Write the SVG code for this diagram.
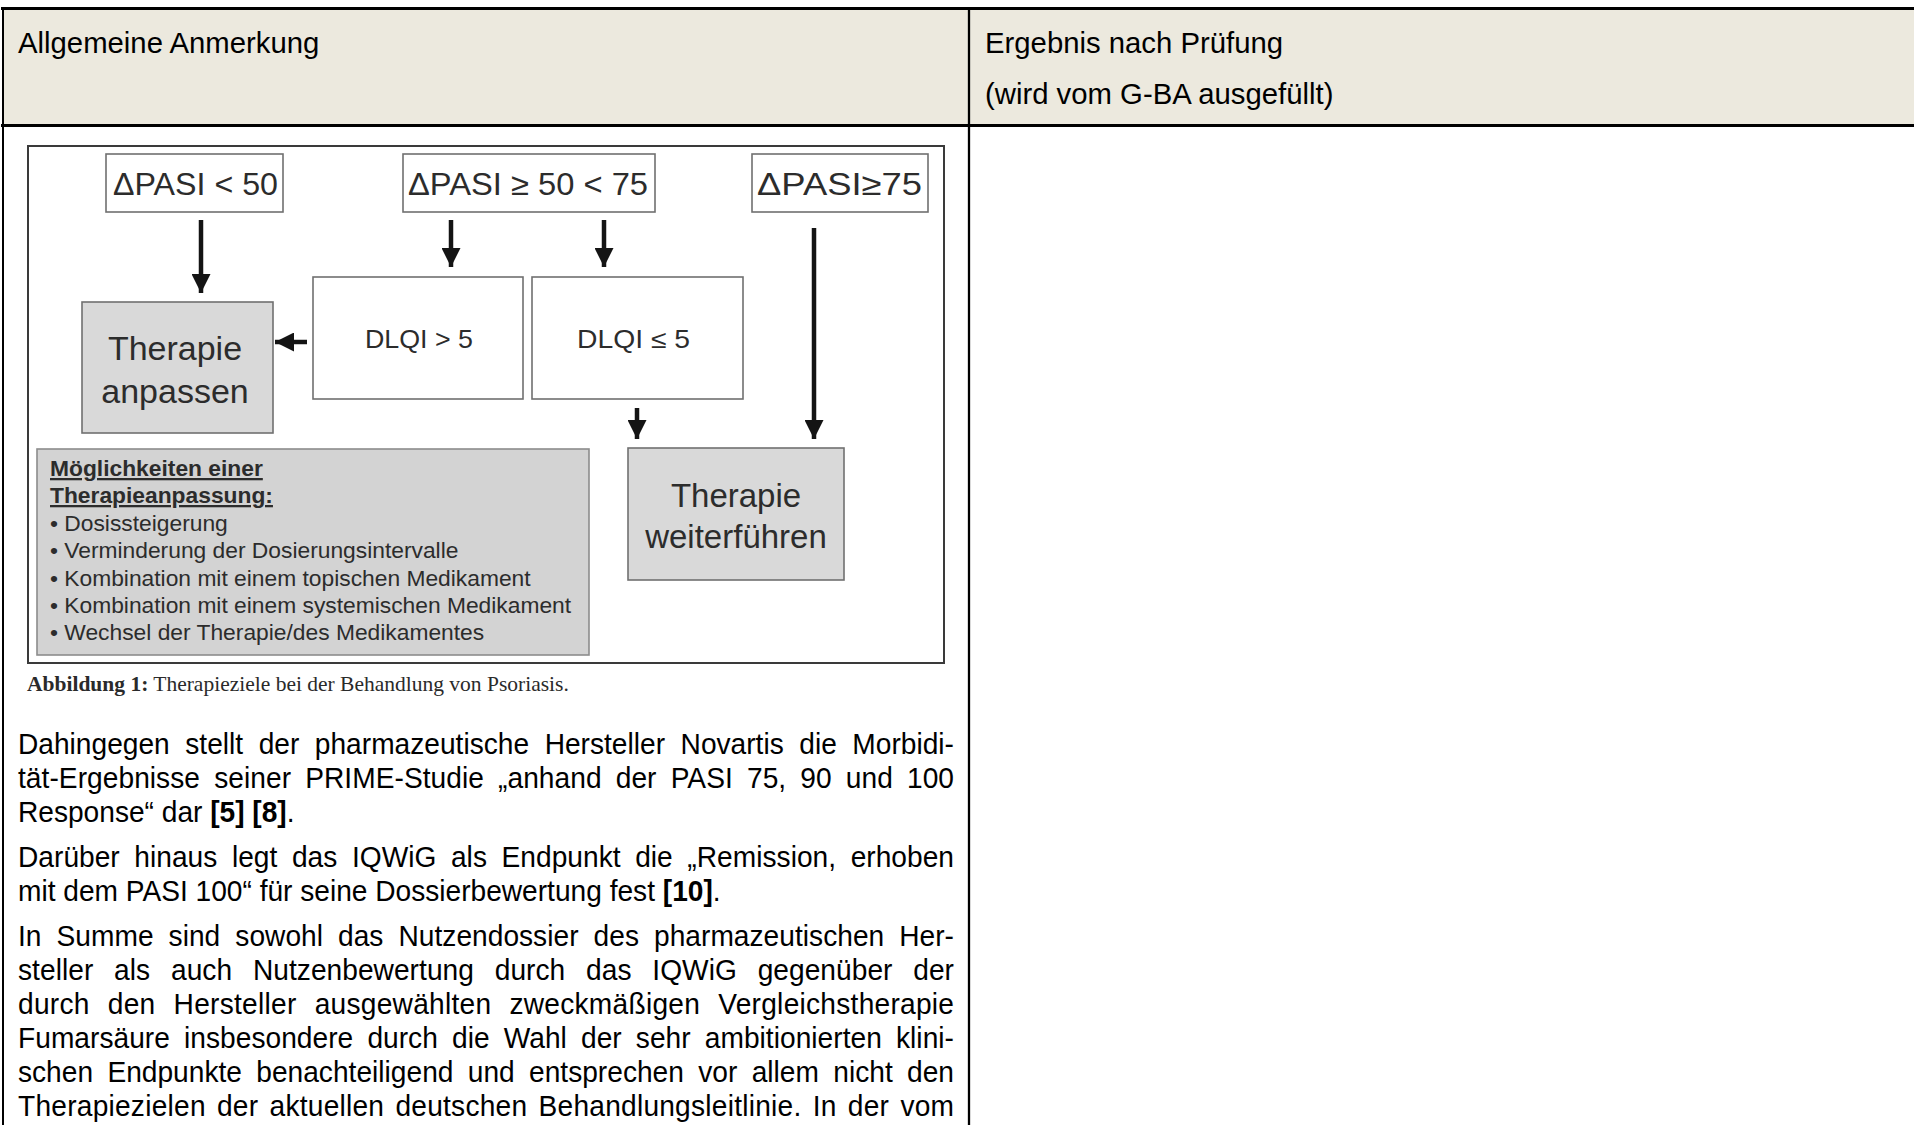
<svg xmlns="http://www.w3.org/2000/svg" width="1914" height="1125" viewBox="0 0 1914 1125">
<defs>
<style>
.hd{font-family:"Liberation Sans",Arial,sans-serif;font-size:29.3px;fill:#000}
.bt{font-family:"Liberation Sans",Arial,sans-serif;font-size:29.3px;fill:#000}
.b{font-weight:bold}
.fig{font-family:"Liberation Sans",Arial,sans-serif;fill:#2c2c2c}
.box{fill:#fff;stroke:#707070;stroke-width:1.6}
.gbox{fill:#d9d9d9;stroke:#707070;stroke-width:1.6}
.arr{stroke:#141414;stroke-width:4.5;fill:none}
.cap{font-family:"Liberation Serif","Times New Roman",serif;font-size:21.5px;fill:#2a2a2a}
.ul{text-decoration:underline}
</style>
<marker id="ah" viewBox="0 0 20 20" refX="20" refY="10" markerWidth="19" markerHeight="19" markerUnits="userSpaceOnUse" orient="auto">
<path d="M0,0 L20,10 L0,20 Z" fill="#141414"/>
</marker>
</defs>
<rect width="1914" height="1125" fill="#fff"/>
<g id="table">
<rect x="3" y="8.5" width="1911" height="117" fill="#ece9de"/>
<line x1="1" y1="8.5" x2="1914" y2="8.5" stroke="#000" stroke-width="3"/>
<line x1="1" y1="125.5" x2="1914" y2="125.5" stroke="#000" stroke-width="3"/>
<line x1="3" y1="7" x2="3" y2="1125" stroke="#000" stroke-width="2"/>
<line x1="969" y1="7" x2="969" y2="1125" stroke="#000" stroke-width="2.3"/>
</g>
<g id="header-left"><text class="hd" x="18" y="53">Allgemeine Anmerkung</text></g>
<g id="header-right">
<text class="hd" x="985" y="53">Ergebnis nach Prüfung</text>
<text class="hd" x="985" y="103.5">(wird vom G-BA ausgefüllt)</text>
</g>
<g id="figure">
<rect x="28" y="146" width="916" height="517" fill="#fff" stroke="#3a3a3a" stroke-width="2"/>
</g>
<g id="n-pasi-lt50">
<rect class="box" x="106" y="154" width="177" height="58"/>
<text class="fig" x="113" y="195" font-size="31" textLength="165" lengthAdjust="spacingAndGlyphs">ΔPASI &lt; 50</text>
</g>
<g id="n-pasi-50-75">
<rect class="box" x="403" y="154" width="252" height="58"/>
<text class="fig" x="408" y="195" font-size="31" textLength="240" lengthAdjust="spacingAndGlyphs">ΔPASI ≥ 50 &lt; 75</text>
</g>
<g id="n-pasi-ge75">
<rect class="box" x="752" y="154" width="176" height="58"/>
<text class="fig" x="757" y="195" font-size="31" textLength="165" lengthAdjust="spacingAndGlyphs">ΔPASI≥75</text>
</g>
<g id="n-anpassen">
<rect class="gbox" x="82" y="302" width="191" height="131"/>
<text class="fig" x="175" y="360" font-size="34" text-anchor="middle">Therapie</text>
<text class="fig" x="175" y="403" font-size="34" text-anchor="middle">anpassen</text>
</g>
<g id="n-dlqi-gt5">
<rect class="box" x="313" y="277" width="210" height="122"/>
<text class="fig" x="365" y="348" font-size="25" textLength="108" lengthAdjust="spacingAndGlyphs">DLQI &gt; 5</text>
</g>
<g id="n-dlqi-le5">
<rect class="box" x="532" y="277" width="211" height="122"/>
<text class="fig" x="577" y="348" font-size="25" textLength="113" lengthAdjust="spacingAndGlyphs">DLQI ≤ 5</text>
</g>
<g id="n-weiter">
<rect class="gbox" x="628" y="448" width="216" height="132"/>
<text class="fig" x="736" y="507" font-size="33" text-anchor="middle">Therapie</text>
<text class="fig" x="736" y="548" font-size="33" text-anchor="middle">weiterführen</text>
</g>
<g id="n-moeglichkeiten">
<rect x="37" y="449" width="552" height="206" fill="#d3d3d3" stroke="#8c8c8c" stroke-width="1.6"/>
<text class="fig b ul" x="50" y="476" font-size="22.8">Möglichkeiten einer</text>
<text class="fig b ul" x="50" y="503" font-size="22.8">Therapieanpassung:</text>
<text class="fig" x="50" y="531" font-size="22.8">• Dosissteigerung</text>
<text class="fig" x="50" y="558" font-size="22.8">• Verminderung der Dosierungsintervalle</text>
<text class="fig" x="50" y="586" font-size="22.8">• Kombination mit einem topischen Medikament</text>
<text class="fig" x="50" y="613" font-size="22.8">• Kombination mit einem systemischen Medikament</text>
<text class="fig" x="50" y="640" font-size="22.8">• Wechsel der Therapie/des Medikamentes</text>
</g>
<g id="connectors">
<line class="arr" x1="201" y1="220" x2="201" y2="293" marker-end="url(#ah)"/>
<line class="arr" x1="451" y1="220" x2="451" y2="267" marker-end="url(#ah)"/>
<line class="arr" x1="604" y1="220" x2="604" y2="267" marker-end="url(#ah)"/>
<line class="arr" x1="637" y1="408" x2="637" y2="439" marker-end="url(#ah)"/>
<line class="arr" x1="814" y1="228" x2="814" y2="439" marker-end="url(#ah)"/>
<line class="arr" x1="307" y1="342" x2="275" y2="342" marker-end="url(#ah)"/>
</g>
<g id="caption">
<text class="cap" x="27" y="691"><tspan font-weight="bold">Abbildung 1:</tspan> Therapieziele bei der Behandlung von Psoriasis.</text>
</g>
<g id="body-text" transform="matrix(0.96 0 0 1 0.72 0)">
<text class="bt" x="18" y="754" word-spacing="8" textLength="975" lengthAdjust="spacing">Dahingegen stellt der pharmazeutische Hersteller Novartis die Morbidi-</text>
<text class="bt" x="18" y="788" word-spacing="6.5" textLength="975" lengthAdjust="spacing">tät-Ergebnisse seiner PRIME-Studie „anhand der PASI 75, 90 und 100</text>
<text class="bt" x="18" y="822">Response“ dar <tspan class="b">[5] [8]</tspan>.</text>
<text class="bt" x="18" y="867" word-spacing="7" textLength="975" lengthAdjust="spacing">Darüber hinaus legt das IQWiG als Endpunkt die „Remission, erhoben</text>
<text class="bt" x="18" y="901">mit dem PASI 100“ für seine Dossierbewertung fest <tspan class="b">[10]</tspan>.</text>
<text class="bt" x="18" y="946" word-spacing="7.5" textLength="975" lengthAdjust="spacing">In Summe sind sowohl das Nutzendossier des pharmazeutischen Her-</text>
<text class="bt" x="18" y="980" word-spacing="13.5" textLength="975" lengthAdjust="spacing">steller als auch Nutzenbewertung durch das IQWiG gegenüber der</text>
<text class="bt" x="18" y="1014" word-spacing="10.5" textLength="975" lengthAdjust="spacing">durch den Hersteller ausgewählten zweckmäßigen Vergleichstherapie</text>
<text class="bt" x="18" y="1048" word-spacing="6.5" textLength="975" lengthAdjust="spacing">Fumarsäure insbesondere durch die Wahl der sehr ambitionierten klini-</text>
<text class="bt" x="18" y="1082" word-spacing="6.8" textLength="975" lengthAdjust="spacing">schen Endpunkte benachteiligend und entsprechen vor allem nicht den</text>
<text class="bt" x="18" y="1116" word-spacing="3.3" textLength="975" lengthAdjust="spacing">Therapiezielen der aktuellen deutschen Behandlungsleitlinie. In der vom</text>
</g>
</svg>
